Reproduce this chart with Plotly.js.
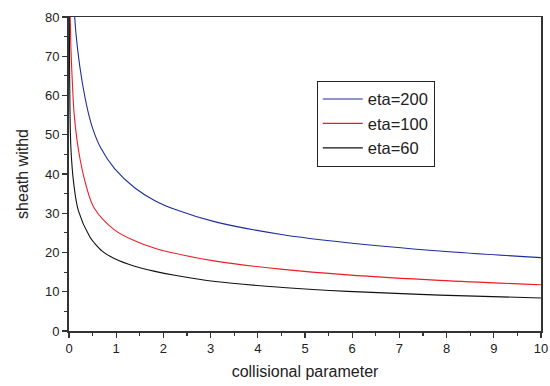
<!DOCTYPE html>
<html>
<head>
<meta charset="utf-8">
<script src="https://cdn.plot.ly/plotly-3.0.1.min.js"></script>
<style>html,body{margin:0;padding:0;background:#fff;}#chart{width:550px;height:386px;}</style>
</head>
<body>
<div id="chart"></div>
<script>
// eta = 200 (blue)
var x200 = [0.10, 0.12, 0.18, 0.276, 0.417, 0.51, 0.665, 0.97, 1.39, 1.82, 2.24, 3.1, 4.5, 5.9, 7.85, 10];
var y200 = [86, 80, 72, 63.7, 55.2, 51.3, 46.8, 41.3, 36.5, 33.2, 31.0, 27.8, 24.6, 22.5, 20.4, 18.7];
// eta = 100 (red)
var x100 = [0.015, 0.03, 0.04, 0.07, 0.11, 0.205, 0.35, 0.54, 0.97, 1.39, 1.82, 2.24, 3.1, 4.53, 5.9, 7.85, 10];
var y100 = [84, 78, 72.2, 63.7, 55.2, 45.8, 37.6, 31.2, 25.7, 23.0, 21.1, 19.8, 17.8, 15.7, 14.3, 12.9, 11.8];
// eta = 60 (black)
var x60 = [0.005, 0.01, 0.02, 0.04, 0.10, 0.2, 0.44, 0.54, 0.71, 0.97, 1.39, 1.82, 2.24, 3.1, 4.53, 5.9, 7.85, 10];
var y60 = [84, 72, 57, 46.7, 37.6, 30.6, 24.0, 22.4, 20.3, 18.4, 16.5, 15.2, 14.2, 12.6, 11.1, 10.1, 9.15, 8.4];

var names = ['eta=200', 'eta=100', 'eta=60'];
var colors = ['#1f2d9c', '#ee1c25', '#111111'];
var xs = [x200, x100, x60];
var ys = [y200, y100, y60];

var traces = [];
for (var i = 0; i < 3; i++) {
  traces.push({
    x: xs[i], y: ys[i], name: names[i], type: 'scatter', mode: 'lines',
    line: {color: colors[i], width: 1.1, shape: 'spline', smoothing: 1.0},
    cliponaxis: true
  });
}

var axisFont = {family: 'Liberation Sans, Arial, sans-serif', size: 13, color: '#222'};
var layout = {
  width: 550, height: 386,
  margin: {l: 69, r: 9, t: 17, b: 55},
  paper_bgcolor: '#fff', plot_bgcolor: '#fff',
  showlegend: true,
  legend: {
    x: 0.525, y: 0.797, xanchor: 'left', yanchor: 'top',
    bgcolor: '#fff', bordercolor: '#222', borderwidth: 1,
    font: {family: 'Liberation Sans, Arial, sans-serif', size: 16.5, color: '#222'},
    tracegroupgap: 0, itemwidth: 40
  },
  xaxis: {
    range: [0, 10], dtick: 1, tick0: 0,
    showgrid: false, zeroline: false,
    showline: true, linecolor: '#333', linewidth: 1.5, mirror: true,
    ticks: 'outside', ticklen: 5, tickwidth: 1.2, tickcolor: '#333',
    minor: {ticks: 'outside', dtick: 0.5, ticklen: 3, tickwidth: 1.2, tickcolor: '#333', showgrid: false},
    tickfont: axisFont,
    title: {text: 'collisional parameter', font: {family: 'Liberation Sans, Arial, sans-serif', size: 16, color: '#222'}, standoff: 10}
  },
  yaxis: {
    range: [0, 80], dtick: 10, tick0: 0,
    showgrid: false, zeroline: false,
    showline: true, linecolor: '#333', linewidth: 2, mirror: true,
    ticks: 'outside', ticklen: 5, tickwidth: 1.2, tickcolor: '#333',
    minor: {ticks: 'outside', dtick: 5, ticklen: 3, tickwidth: 1.2, tickcolor: '#333', showgrid: false},
    tickfont: axisFont,
    title: {text: 'sheath withd', font: {family: 'Liberation Sans, Arial, sans-serif', size: 16, color: '#222'}, standoff: 12}
  }
};

Plotly.newPlot('chart', traces, layout, {displayModeBar: false, staticPlot: true});
</script>
</body>
</html>
